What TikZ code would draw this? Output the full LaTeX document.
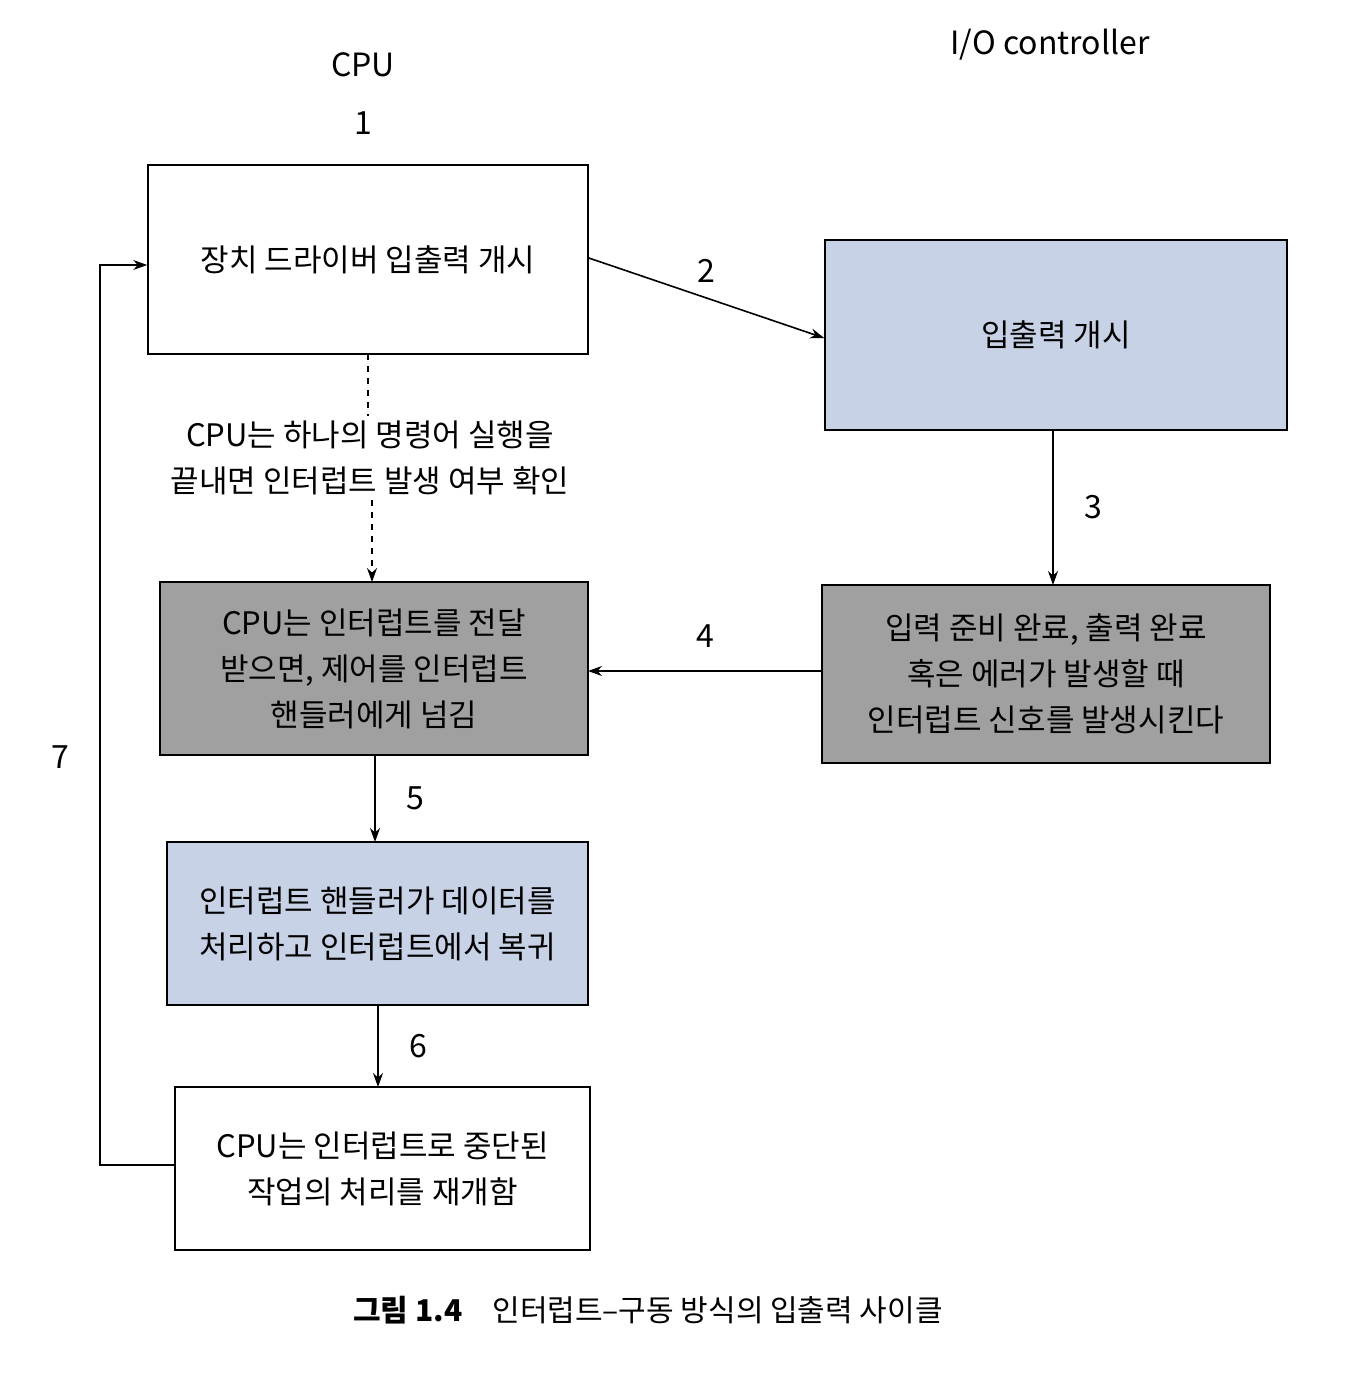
\documentclass[tikz,border=0pt]{standalone}
\usepackage{fontspec}
\setmainfont{Noto Sans CJK KR}
\usetikzlibrary{arrows.meta}
\definecolor{lblue}{HTML}{C8D2E6}
\definecolor{mgray}{HTML}{A0A0A0}
\begin{document}
\begin{tikzpicture}[x=0.5pt,y=-0.5pt,
  box/.style={draw, line width=0.8pt, align=center, inner sep=0pt, font=\fontsize{15.5}{23}\selectfont},
  lbl/.style={font=\fontsize{16}{18}\selectfont},
  arr/.style={-{Stealth[length=7pt,width=5pt]}, line width=0.8pt}]
\useasboundingbox[fill=white] (0,0) rectangle (1344,1386);
\node[box, minimum width=220pt, minimum height=94.5pt] (b1) at (368,259.5) {장치 드라이버 입출력 개시};
\node[box, fill=lblue, minimum width=231pt, minimum height=95pt] (b2) at (1056,335) {입출력 개시};
\node[box, fill=mgray, minimum width=214pt, minimum height=86.5pt] (b3) at (374,668.5) {CPU는 인터럽트를 전달\\받으면, 제어를 인터럽트\\핸들러에게 넘김};
\node[box, fill=mgray, minimum width=224pt, minimum height=89pt] (b4) at (1046,674) {입력 준비 완료, 출력 완료\\혹은 에러가 발생할 때\\인터럽트 신호를 발생시킨다};
\node[box, fill=lblue, minimum width=210.5pt, minimum height=81.5pt] (b5) at (377.5,923.5) {인터럽트 핸들러가 데이터를\\처리하고 인터럽트에서 복귀};
\node[box, minimum width=207.5pt, minimum height=81.5pt] (b6) at (382.5,1168.5) {CPU는 인터럽트로 중단된\\작업의 처리를 재개함};
\node[lbl] (cpu) at (363,65) {CPU};
\node[lbl] (io) at (1050,45) {I/O controller};
\node[lbl] (n1) at (363,123) {1};
\node[box, draw=none, fill=white, inner sep=2pt] (mid) at (370,458) {CPU는 하나의 명령어 실행을\\끝내면 인터럽트 발생 여부 확인};
\draw[arr] (b1.east |- 0,258) -- (b2.west |- 0,338) node[lbl, pos=0.5, above=4pt] {2};
\draw[dashed, line width=0.8pt] (368,354) -- (mid.north -| 368,0);
\draw[arr, dashed] (mid.south -| 372,0) -- (372,582);
\draw[arr] (1053,430) -- (1053,585) node[lbl, pos=0.5, right=12pt] {3};
\draw[arr] (822,671) -- (588,671) node[lbl, pos=0.5, above=8pt] {4};
\draw[arr] (375,755) -- (375,842) node[lbl, pos=0.5, right=12pt] {5};
\draw[arr] (378,1005) -- (378,1087) node[lbl, pos=0.5, right=12pt] {6};
\draw[arr] (b6.west |- 0,1165) -- (100,1165) -- (100,265) -- (b1.west |- 0,265);
\node[lbl] (n7) at (60,757) {7};
\node[font=\fontsize{15}{18}\selectfont] (cap) at (648,1310) {\textbf{그림 1.4}\quad 인터럽트–구동 방식의 입출력 사이클};
\end{tikzpicture}
\end{document}
